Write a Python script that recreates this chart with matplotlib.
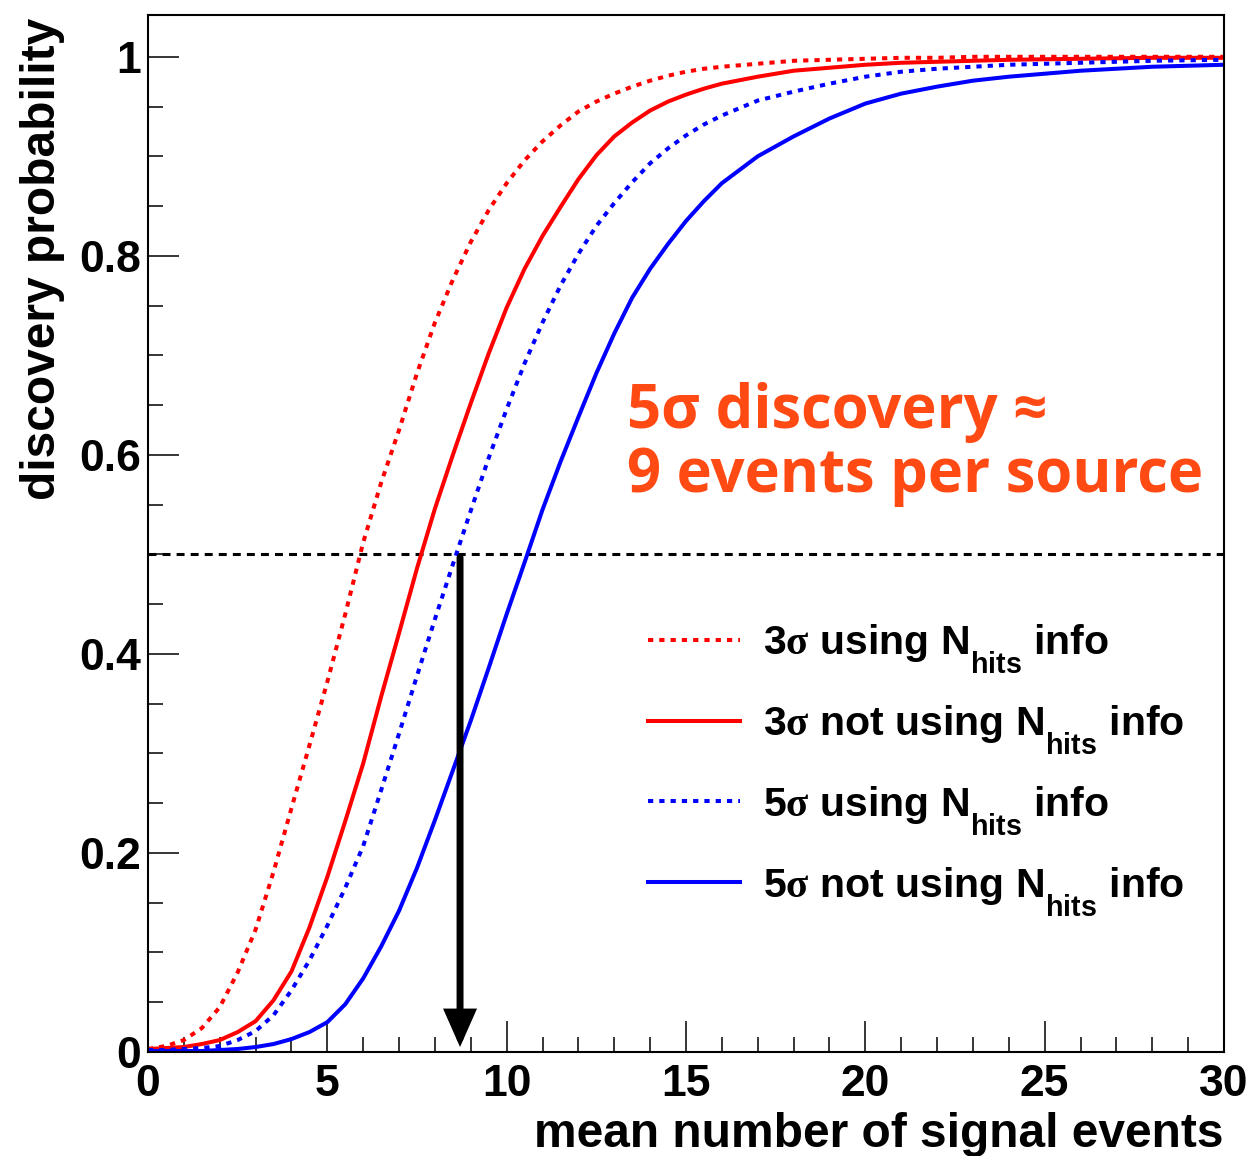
import matplotlib
matplotlib.use("Agg")
import matplotlib.pyplot as plt
from matplotlib import _mathtext
from matplotlib.ticker import MultipleLocator, FixedLocator, FuncFormatter

# ---- data: discovery probability vs mean number of signal events ----
mean_signal = [0, 0.5, 1, 1.5, 2, 2.5, 3, 3.5, 4, 4.5, 5, 5.5, 6, 6.5, 7, 7.5,
               8, 8.5, 9, 9.5, 10, 10.5, 11, 11.5, 12, 12.5, 13, 13.5, 14,
               14.5, 15, 15.5, 16, 17, 18, 19, 20, 21, 22, 23, 24, 26, 28, 30]

p3_with_nhits = [0.003, 0.006, 0.012, 0.024, 0.045, 0.080, 0.123, 0.181, 0.245,
                 0.308, 0.372, 0.440, 0.512, 0.572, 0.625, 0.682, 0.733, 0.776,
                 0.814, 0.846, 0.873, 0.896, 0.915, 0.931, 0.945, 0.955, 0.963,
                 0.970, 0.976, 0.981, 0.985, 0.988, 0.990, 0.993, 0.996, 0.997,
                 0.998, 0.999, 0.999, 1.000, 1.000, 1.000, 1.000, 1.000]

p3_without_nhits = [0.003, 0.004, 0.005, 0.008, 0.012, 0.020, 0.031, 0.052, 0.081,
                    0.125, 0.176, 0.232, 0.290, 0.357, 0.421, 0.486, 0.546, 0.600,
                    0.652, 0.702, 0.748, 0.787, 0.820, 0.849, 0.877, 0.901, 0.920,
                    0.934, 0.946, 0.955, 0.962, 0.968, 0.973, 0.980, 0.986, 0.989,
                    0.992, 0.994, 0.995, 0.996, 0.997, 0.998, 0.999, 0.999]

p5_with_nhits = [0.002, 0.002, 0.003, 0.004, 0.006, 0.012, 0.021, 0.037, 0.062,
                 0.092, 0.127, 0.165, 0.207, 0.263, 0.320, 0.378, 0.435, 0.490,
                 0.544, 0.597, 0.646, 0.692, 0.733, 0.770, 0.802, 0.830, 0.853,
                 0.874, 0.893, 0.908, 0.921, 0.932, 0.941, 0.956, 0.965, 0.973,
                 0.980, 0.985, 0.988, 0.990, 0.992, 0.994, 0.996, 0.997]

p5_without_nhits = [0.001, 0.001, 0.001, 0.001, 0.002, 0.003, 0.005, 0.008, 0.013,
                    0.020, 0.030, 0.048, 0.074, 0.106, 0.142, 0.185, 0.233, 0.283,
                    0.333, 0.386, 0.440, 0.492, 0.545, 0.593, 0.638, 0.682, 0.722,
                    0.758, 0.787, 0.812, 0.835, 0.855, 0.873, 0.900, 0.920, 0.938,
                    0.953, 0.963, 0.970, 0.976, 0.980, 0.986, 0.990, 0.992]

half_prob = 0.5
n_events_5sigma = 8.7

series_labels = [
    r"3$\sigma$ using N$_{\mathrm{hits}}$ info",
    r"3$\sigma$ not using N$_{\mathrm{hits}}$ info",
    r"5$\sigma$ using N$_{\mathrm{hits}}$ info",
    r"5$\sigma$ not using N$_{\mathrm{hits}}$ info",
]
x_ticks = [0, 5, 10, 15, 20, 25, 30]
y_ticks = [0, 0.2, 0.4, 0.6, 0.8, 1.0]
y_tick_labels = ["0", "0.2", "0.4", "0.6", "0.8", "1"]

# ---- fonts ----
plt.rcParams["font.family"] = ["Liberation Sans", "DejaVu Sans"]
plt.rcParams["font.weight"] = "bold"
plt.rcParams["mathtext.fontset"] = "custom"
plt.rcParams["mathtext.rm"] = "Liberation Sans:bold"
plt.rcParams["mathtext.bf"] = "Liberation Sans:bold"
plt.rcParams["mathtext.sf"] = "Liberation Sans:bold"
plt.rcParams["mathtext.it"] = "Liberation Serif"


# deeper subscripts, in the style of ROOT's TLatex
class _DeepSubscripts(_mathtext.FontConstantsBase):
    sub1 = 1.0
    sub2 = 1.0


for _fam in ("Liberation Sans", "Liberation Serif"):
    _mathtext._font_constant_mapping[_fam] = _DeepSubscripts

W, H = 1255, 1156
fig = plt.figure(figsize=(W / 100, H / 100), dpi=100)
ax = fig.add_axes([148 / W, 1 - 1052 / H, (1224 - 148) / W, (1052 - 15) / H])

dotted = (0, (1.3, 1.5))
lw = 2.9
ax.plot(mean_signal, p3_with_nhits, color="#ff0000", lw=lw, ls=dotted,
        label=series_labels[0])
ax.plot(mean_signal, p3_without_nhits, color="#ff0000", lw=lw, ls="-",
        label=series_labels[1])
ax.plot(mean_signal, p5_with_nhits, color="#0000ff", lw=lw, ls=dotted,
        label=series_labels[2])
ax.plot(mean_signal, p5_without_nhits, color="#0000ff", lw=lw, ls="-",
        label=series_labels[3])

# 50% probability reference line
ax.axhline(half_prob, color="black", lw=2.2, ls=(0, (2.6, 2.0)), zorder=1)

# arrow marking the number of events for a 5 sigma discovery
ax.annotate("", xy=(n_events_5sigma, 0.005), xytext=(n_events_5sigma, half_prob - 0.003),
            arrowprops=dict(arrowstyle="-|>,head_length=0.95,head_width=0.42",
                            mutation_scale=20, lw=5, color="black",
                            shrinkA=0, shrinkB=0, joinstyle="miter"))

ax.set_xlim(0, 30)
ax.set_ylim(0, 1.042)

# ROOT-like axes: ticks inside, only on bottom and left
for s in ax.spines.values():
    s.set_linewidth(1.5)
ax.xaxis.set_major_locator(FixedLocator(x_ticks))
ax.xaxis.set_minor_locator(MultipleLocator(1))
ax.yaxis.set_major_locator(FixedLocator(y_ticks))
ax.yaxis.set_minor_locator(MultipleLocator(0.05))
ax.yaxis.set_major_formatter(FuncFormatter(
    lambda v, pos: y_tick_labels[y_ticks.index(round(v, 2))] if round(v, 2) in y_ticks else ""))
ax.tick_params(which="both", direction="in", top=False, right=False, width=1.1,
               color="black")
ax.tick_params(which="major", length=22)
ax.tick_params(which="minor", length=11)
ax.tick_params(axis="x", which="major", labelsize=32, pad=9)
ax.tick_params(axis="y", which="major", labelsize=32, pad=5)
for t in ax.get_xticklabels() + ax.get_yticklabels():
    t.set_fontweight("bold")

ax.set_xlabel("mean number of signal events", fontsize=34.5, fontweight="bold", loc="right")
ax.xaxis.set_label_coords(1.0, -0.058)
ax.set_ylabel("discovery probability", fontsize=34.5, fontweight="bold", loc="top")
ax.yaxis.set_label_coords(-0.0771, 0.997)

# annotation
orange = "#ff4a14"
ax.text(0.4452, 0.6017, "5σ discovery ≈", transform=ax.transAxes, color=orange,
        fontsize=43, fontweight="bold", family=["Open Sans", "DejaVu Sans"],
        ha="left", va="baseline")
ax.text(0.4452, 0.540, "9 events per source", transform=ax.transAxes, color=orange,
        fontsize=43, fontweight="bold", family=["Open Sans", "DejaVu Sans"],
        ha="left", va="baseline")

leg = ax.legend(loc="upper left", bbox_to_anchor=((648 - 148) / 1076, (1052 - 622) / 1037),
                frameon=False, fontsize=29.5, handlelength=2.25, handletextpad=0.55,
                labelspacing=0.68, borderpad=0, borderaxespad=0)
for t in leg.get_texts():
    t.set_fontweight("bold")

fig.savefig("out.png", dpi=100)
